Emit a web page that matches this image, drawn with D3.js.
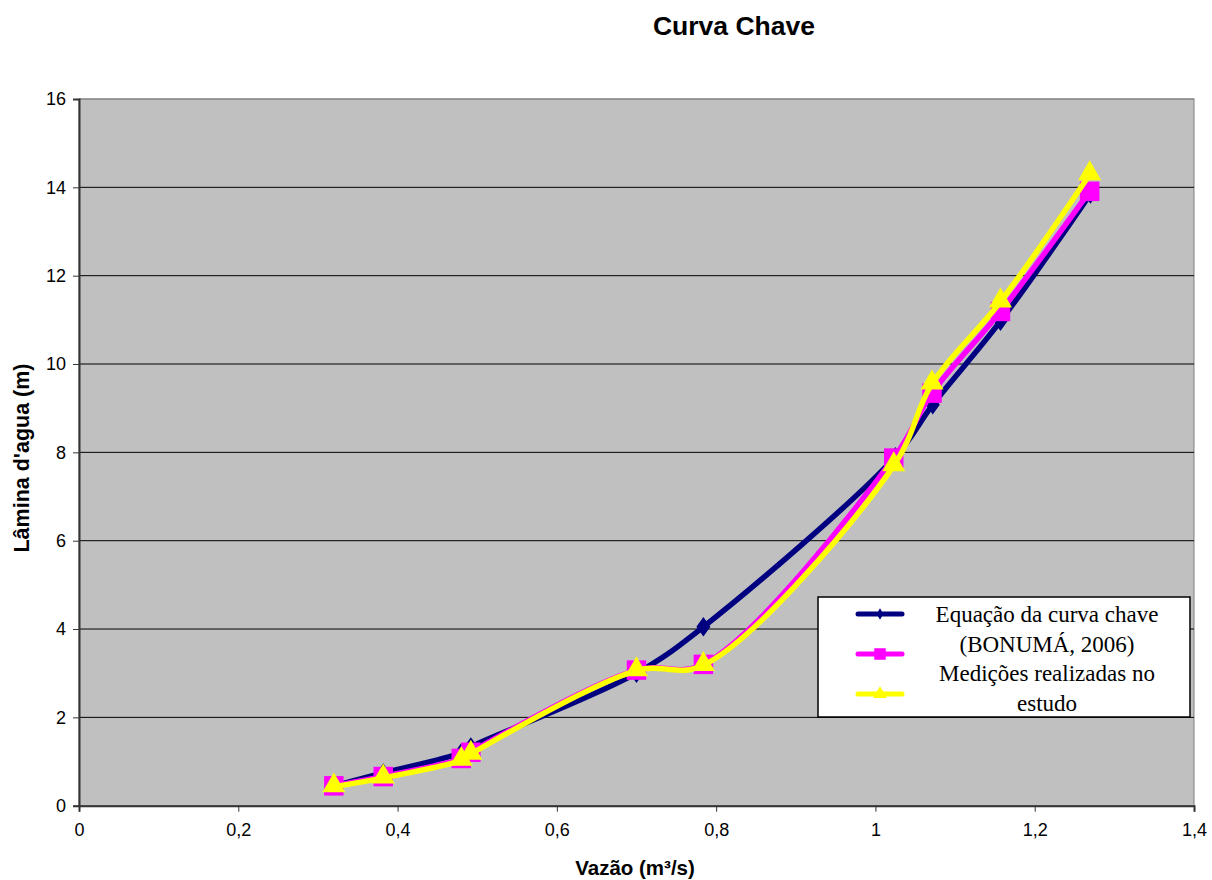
<!DOCTYPE html>
<html>
<head>
<meta charset="utf-8">
<script src="https://cdn.jsdelivr.net/npm/d3@7"></script>
<style>
  body { margin: 0; background: #fff; }
  text { font-family: Arial, "Liberation Sans", sans-serif; }
</style>
</head>
<body>
<svg id="chart" width="1212" height="880"></svg>
<script>
// data
const vazaoCurva = [0.32, 0.382, 0.48, 0.492, 0.70, 0.784, 1.025, 1.072, 1.157, 1.27]
const laminaCurva = [0.45, 0.74, 1.2, 1.33, 3.0, 4.05, 7.9, 9.08, 10.97, 13.85]
const vazaoMedida = [0.32, 0.382, 0.48, 0.492, 0.70, 0.784, 1.023, 1.071, 1.157, 1.269]
const laminaBonuma = [0.45, 0.66, 1.07, 1.21, 3.07, 3.2, 7.87, 9.34, 11.19, 13.91]
const laminaEstudo = [0.43, 0.63, 1.03, 1.17, 3.06, 3.18, 7.7, 9.55, 11.41, 14.29]
const yTicks = [0, 2, 4, 6, 8, 10, 12, 14, 16]
const xTicks = [0, 0.2, 0.4, 0.6, 0.8, 1, 1.2, 1.4]
const legendLines = ['Equação da curva chave', '(BONUMÁ, 2006)', 'Medições realizadas no', 'estudo']

const svg = d3.select('#chart')
const plotLeft = 79, plotRight = 1194, plotTop = 99, plotBottom = 805.7

const x = d3.scaleLinear().domain([0, 1.4]).range([plotLeft, plotRight])
const y = d3.scaleLinear().domain([0, 16]).range([plotBottom, plotTop])

// plot area
svg.append('rect')
  .attr('x', plotLeft).attr('y', plotTop)
  .attr('width', plotRight - plotLeft).attr('height', plotBottom - plotTop)
  .attr('fill', '#c0c0c0')
  .attr('stroke', '#808080')

// gridlines
svg.append('g')
  .selectAll('line')
  .data(yTicks.filter(t => t > 0))
  .enter()
  .append('line')
  .attr('x1', plotLeft).attr('x2', plotRight)
  .attr('y1', d => y(d)).attr('y2', d => y(d))
  .attr('stroke', d => d === 16 ? '#808080' : '#000')
  .attr('stroke-width', 1)

// axes
const xAxis = d3.axisBottom(x).tickValues(xTicks).tickSize(6).tickPadding(12)
  .tickFormat(d => String(d).replace('.', ','))
const yAxis = d3.axisLeft(y).tickValues(yTicks).tickSize(6).tickPadding(7)

const gx = svg.append('g').attr('transform', `translate(0,${plotBottom})`).call(xAxis)
const gy = svg.append('g').attr('transform', `translate(${plotLeft},0)`).call(yAxis)
;[gx, gy].forEach(g => {
  g.select('.domain').attr('stroke', '#333').attr('stroke-width', 2)
  g.selectAll('.tick line').attr('stroke', '#333')
  g.selectAll('.tick text').attr('font-size', 18).attr('fill', '#000')
    .attr('font-family', 'Arial, "Liberation Sans", sans-serif')
})

// series
const series = [
  { xs: vazaoCurva, ys: laminaCurva, color: '#000080', symbol: d3.symbolDiamond, size: 110 },
  { xs: vazaoMedida, ys: laminaBonuma, color: '#ff00ff', symbol: d3.symbolSquare, size: 380 },
  { xs: vazaoMedida, ys: laminaEstudo, color: '#ffff00', symbol: d3.symbolTriangle, size: 230 }
]

const line = d3.line()
  .x(d => x(d[0]))
  .y(d => y(d[1]))
  .curve(d3.curveCatmullRom.alpha(0.5))

series.forEach(s => {
  const pts = s.xs.map((v, i) => [v, s.ys[i]])
  svg.append('path')
    .datum(pts)
    .attr('d', line)
    .attr('fill', 'none')
    .attr('stroke', s.color)
    .attr('stroke-width', 5.5)
    .attr('stroke-linejoin', 'round')
  svg.append('g')
    .selectAll('path')
    .data(pts)
    .enter()
    .append('path')
    .attr('d', d3.symbol().type(s.symbol).size(s.size))
    .attr('transform', d => s.symbol === d3.symbolDiamond
      ? `translate(${x(d[0])},${y(d[1])}) scale(1.25,1)`
      : `translate(${x(d[0])},${y(d[1]) + (s.symbol === d3.symbolTriangle ? -1 : 0)})`)
    .attr('fill', s.color)
})

// legend
const lg = svg.append('g')
lg.append('rect')
  .attr('x', 818).attr('y', 597).attr('width', 372).attr('height', 120)
  .attr('fill', '#fff').attr('stroke', '#000').attr('stroke-width', 1.5)
const legendY = [614, 654, 694]
series.forEach((s, i) => {
  lg.append('line')
    .attr('x1', 858).attr('x2', 902)
    .attr('y1', legendY[i]).attr('y2', legendY[i])
    .attr('stroke', s.color).attr('stroke-width', 5).attr('stroke-linecap', 'round')
  lg.append('path')
    .attr('d', d3.symbol().type(s.symbol).size(s.size * 0.35))
    .attr('transform', `translate(880,${legendY[i]})`)
    .attr('fill', s.color)
})
lg.selectAll('text')
  .data(legendLines)
  .enter()
  .append('text')
  .attr('x', 1047)
  .attr('y', (d, i) => 614 + i * 29.5)
  .attr('dy', '0.35em')
  .attr('text-anchor', 'middle')
  .style('font-family', '"Liberation Serif", "Times New Roman", serif')
  .attr('font-size', 23)
  .text(d => d)

// titles
svg.append('text')
  .attr('x', 734).attr('y', 26).attr('dy', '0.35em')
  .attr('text-anchor', 'middle')
  .attr('font-size', 26.5).attr('font-weight', 'bold')
  .text('Curva Chave')

svg.append('text')
  .attr('x', 635).attr('y', 868).attr('dy', '0.35em')
  .attr('text-anchor', 'middle')
  .attr('font-size', 20.5).attr('font-weight', 'bold')
  .text('Vazão (m³/s)')

svg.append('text')
  .attr('transform', 'translate(21,458) rotate(-90)')
  .attr('dy', '0.35em')
  .attr('text-anchor', 'middle')
  .attr('font-size', 21.5).attr('font-weight', 'bold')
  .text("Lâmina d'agua (m)")
</script>
</body>
</html>
